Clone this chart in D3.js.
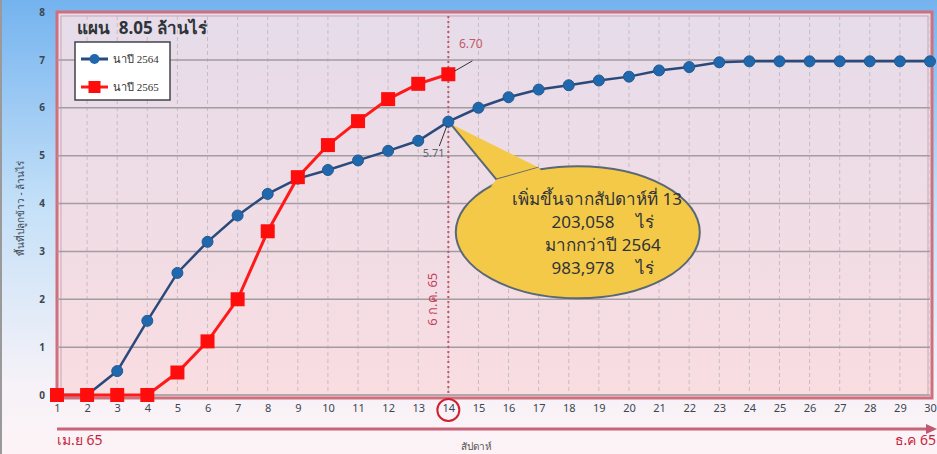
<!DOCTYPE html>
<html>
<head>
<meta charset="utf-8">
<script src="https://cdn.jsdelivr.net/npm/d3@7"></script>
<style>
  body { margin: 0; overflow: hidden; }
  text { font-family: "Noto Sans", "DejaVu Sans", sans-serif; white-space: pre; }
</style>
</head>
<body>
<script>
let w = 937
let h = 454

// weeks 1..30
let weeks = d3.range(1, 31)
let rice2564 = [0, 0, 0.5, 1.55, 2.55, 3.2, 3.75, 4.2, 4.52, 4.7, 4.9, 5.1, 5.31, 5.71, 6.0,
    6.22, 6.38, 6.47, 6.57, 6.65, 6.78, 6.85, 6.95, 6.97, 6.97, 6.97, 6.97, 6.97, 6.97, 6.97]
let rice2565 = [0, 0, 0, 0, 0.47, 1.12, 2.0, 3.42, 4.55, 5.22, 5.72, 6.18, 6.5, 6.70]
let yTicks = [0, 1, 2, 3, 4, 5, 6, 7, 8]
let seriesNames = ["นาปี 2564", "นาปี 2565"]
let calloutLines = ["เพิ่มขึ้นจากสัปดาห์ที่ 13", "203,058     ไร่", "มากกว่าปี 2564", "983,978     ไร่"]

let svg = d3.select("body")
    .append("svg")
    .attr("width", w)
    .attr("height", h)

let defs = svg.append("defs")
let bg = defs.append("linearGradient").attr("id", "bg").attr("x1", 0).attr("y1", 0).attr("x2", 0).attr("y2", 1)
bg.append("stop").attr("offset", "0%").attr("stop-color", "#74b3ef")
bg.append("stop").attr("offset", "45%").attr("stop-color", "#c4e0f8")
bg.append("stop").attr("offset", "85%").attr("stop-color", "#f6f2f8")
bg.append("stop").attr("offset", "100%").attr("stop-color", "#fdf3f6")
let pbg = defs.append("linearGradient").attr("id", "pbg").attr("x1", 0).attr("y1", 0).attr("x2", 0).attr("y2", 1)
pbg.append("stop").attr("offset", "0%").attr("stop-color", "#e6dcea")
pbg.append("stop").attr("offset", "100%").attr("stop-color", "#f9dde1")

svg.append("rect").attr("width", w).attr("height", h).attr("fill", "url(#bg)")
svg.append("rect").attr("x", 0).attr("y", 0).attr("width", 2).attr("height", h).attr("fill", "#9a9a9a")

let x = d3.scaleLinear().domain([1, 30]).range([57, 930])
let y = d3.scaleLinear().domain([0, 8]).range([395, 12])

// plot frame
svg.append("rect")
    .attr("x", x(1)).attr("y", y(8))
    .attr("width", x(30) - x(1) + 2).attr("height", y(0) - y(8) + 3)
    .attr("fill", "url(#pbg)")
    .attr("stroke", "#d0707c").attr("stroke-width", 3)
svg.append("rect")
    .attr("x", x(1) + 4).attr("y", y(8) + 4)
    .attr("width", x(30) - x(1) - 6).attr("height", y(0) - y(8) - 4)
    .attr("fill", "none")
    .attr("stroke", "#c9a6b4").attr("stroke-width", 1)

// grid
svg.append("g")
    .selectAll("line")
    .data(weeks.slice(1))
    .join("line")
    .attr("x1", d => x(d)).attr("x2", d => x(d))
    .attr("y1", y(8) + 4).attr("y2", y(0))
    .attr("stroke", "#c8bcc4").attr("stroke-dasharray", "4,3")
svg.append("g")
    .selectAll("line")
    .data(yTicks.slice(0, 8))
    .join("line")
    .attr("x1", x(1)).attr("x2", x(30))
    .attr("y1", d => y(d)).attr("y2", d => y(d))
    .attr("stroke", "#a39ca2").attr("stroke-width", 1.5)

// axes labels
let yAxis = svg.append("g")
    .attr("transform", "translate(" + (x(1) - 12) + ",0)")
    .call(d3.axisLeft(y).tickValues(yTicks).tickSize(0).tickPadding(0))
yAxis.select(".domain").remove()
yAxis.selectAll("text").attr("font-size", 10).attr("font-weight", "bold").attr("fill", "#3c4650")
    .style("font-family", "Noto Sans")

let xAxis = svg.append("g")
    .attr("transform", "translate(0," + (y(0) + 9) + ")")
    .call(d3.axisBottom(x).tickValues(weeks).tickFormat(d3.format("d")).tickSize(0).tickPadding(0))
xAxis.select(".domain").remove()
xAxis.selectAll("text").attr("font-size", 11).attr("fill", "#3c4650").style("font-family", "Noto Sans")

svg.append("circle")
    .attr("cx", x(14)).attr("cy", y(0) + 15).attr("r", 11)
    .attr("fill", "none").attr("stroke", "#d02030").attr("stroke-width", 2)

svg.append("text")
    .attr("transform", "translate(24," + y(3.9) + ") rotate(-90)")
    .attr("text-anchor", "middle")
    .attr("font-size", 10).attr("fill", "#3c4650")
    .text("พื้นที่ปลูกข้าว - ล้านไร่")

// vertical marker week 14
svg.append("line")
    .attr("x1", x(14)).attr("x2", x(14))
    .attr("y1", y(8) + 4).attr("y2", y(0))
    .attr("stroke", "#c0586a").attr("stroke-width", 2).attr("stroke-dasharray", "2,3")
svg.append("text")
    .attr("transform", "translate(" + (x(14) - 11) + "," + y(2) + ") rotate(-90)")
    .attr("text-anchor", "middle")
    .attr("font-size", 13).attr("fill", "#c0405a")
    .text("6 ก.ค. 65")

// callout
let cx = x(18.3), cy = y(3.4)
svg.append("path")
    .attr("d", d3.line()([[x(14) + 2, y(5.71) + 2], [x(15.6), y(4.5)], [x(17.0), y(4.75)]]))
    .attr("fill", "#f5c948").attr("stroke", "#5a6876").attr("stroke-width", 2)
svg.append("ellipse")
    .attr("cx", cx).attr("cy", cy).attr("rx", 122).attr("ry", 66)
    .attr("fill", "#f5c948").attr("stroke", "#5a6876").attr("stroke-width", 2)
svg.append("path")
    .attr("d", d3.line()([[x(15.4), y(4.35)], [x(15.6), y(4.5)], [x(17.0), y(4.75)], [x(17.2), y(4.6)]]))
    .attr("fill", "#f5c948").attr("stroke", "none")
svg.append("g")
    .selectAll("text")
    .data(calloutLines)
    .join("text")
    .attr("x", (d, i) => i == 0 ? 597 : 603)
    .attr("y", (d, i) => 205 + i * 23)
    .attr("text-anchor", "middle")
    .attr("font-size", 17).attr("fill", "#2e3438")
    .text(d => d)

// lines
let line = d3.line().x((d, i) => x(weeks[i])).y(d => y(d))
svg.append("path")
    .datum(rice2564)
    .attr("d", line)
    .attr("fill", "none").attr("stroke", "#2b4a7c").attr("stroke-width", 2.5)
svg.append("g")
    .selectAll("circle")
    .data(rice2564)
    .join("circle")
    .attr("cx", (d, i) => x(weeks[i])).attr("cy", d => y(d)).attr("r", 5.5)
    .attr("fill", "#1f68ae").attr("stroke", "#24588e").attr("stroke-width", 1)

svg.append("path")
    .datum(rice2565)
    .attr("d", line)
    .attr("fill", "none").attr("stroke", "#ff1a1a").attr("stroke-width", 3)
svg.append("g")
    .selectAll("rect")
    .data(rice2565)
    .join("rect")
    .attr("x", (d, i) => x(weeks[i]) - 7).attr("y", d => y(d) - 7)
    .attr("width", 14).attr("height", 14)
    .attr("fill", "#ff0d0d")

// value labels
svg.append("line")
    .attr("x1", x(14) + 6).attr("y1", y(6.70) - 3).attr("x2", x(14.8)).attr("y2", y(6.98))
    .attr("stroke", "#333").attr("stroke-width", 1)
svg.append("text")
    .attr("x", x(14.35)).attr("y", y(7.25))
    .attr("font-size", 12).attr("fill", "#c05a66")
    .text("6.70")
svg.append("line")
    .attr("x1", x(13.95)).attr("y1", y(5.62)).attr("x2", x(13.7)).attr("y2", y(5.2))
    .attr("stroke", "#333").attr("stroke-width", 1)
svg.append("text")
    .attr("x", x(13.15)).attr("y", y(4.98))
    .attr("font-size", 11).attr("fill", "#5a6672")
    .text("5.71")

// title and legend
svg.append("text")
    .attr("x", 77).attr("y", 34)
    .attr("font-size", 17).attr("font-weight", "bold").attr("fill", "#2e3438")
    .text("แผน  8.05 ล้านไร่")

let legend = svg.append("g").attr("transform", "translate(75,42)")
legend.append("rect")
    .attr("width", 95).attr("height", 58)
    .attr("fill", "#ffffff").attr("stroke", "#40444a").attr("stroke-width", 1.5)
let items = legend.selectAll("g.item")
    .data(seriesNames)
    .join("g")
    .attr("transform", (d, i) => "translate(0," + (17 + i * 28) + ")")
items.append("line")
    .attr("x1", 6).attr("x2", 33)
    .attr("stroke", (d, i) => i == 0 ? "#2b4a7c" : "#ff1a1a").attr("stroke-width", 3)
items.filter((d, i) => i == 0).append("circle")
    .attr("cx", 19.5).attr("r", 5).attr("fill", "#1f68ae")
items.filter((d, i) => i == 1).append("rect")
    .attr("x", 13.5).attr("y", -6).attr("width", 12).attr("height", 12).attr("fill", "#ff0d0d")
items.append("text")
    .attr("x", 38).attr("y", 4)
    .attr("font-size", 11).attr("fill", "#333")
    .style("font-family", "Liberation Serif, serif")
    .text(d => d)

// bottom arrow
svg.append("line")
    .attr("x1", x(1)).attr("x2", x(30) + 2)
    .attr("y1", 429).attr("y2", 429)
    .attr("stroke", "#c86478").attr("stroke-width", 3)
svg.append("path")
    .attr("d", d3.line()([[x(30) - 4, 424], [x(30) + 7, 429], [x(30) - 4, 434]]))
    .attr("fill", "#c05870")
svg.append("text")
    .attr("x", x(1)).attr("y", 445)
    .attr("font-size", 14).attr("fill", "#c8243c")
    .text("เม.ย 65")
svg.append("text")
    .attr("x", 936).attr("y", 445)
    .attr("text-anchor", "end")
    .attr("font-size", 14).attr("fill", "#c8243c")
    .text("ธ.ค 65")
svg.append("text")
    .attr("x", 461).attr("y", 450)
    .attr("font-size", 10).attr("fill", "#555")
    .text("สัปดาห์")
</script>
</body>
</html>
